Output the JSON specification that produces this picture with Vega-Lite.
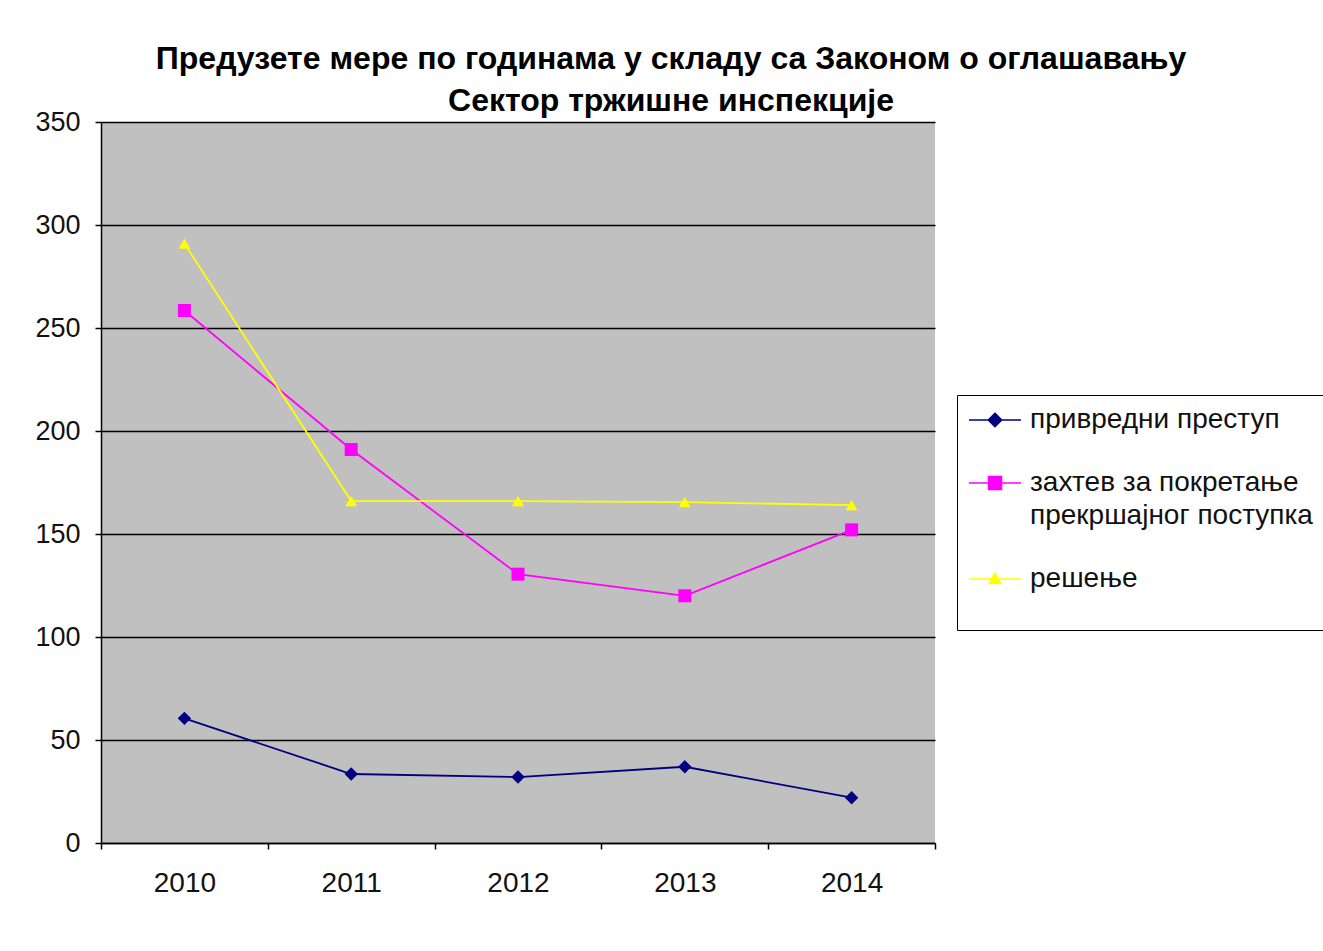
{
  "$schema": "https://vega.github.io/schema/vega-lite/v6.json",
  "width": 834,
  "height": 721,
  "autosize": {"type": "none"},
  "padding": {"left": 101, "top": 122, "right": 388, "bottom": 108},
  "background": "white",
  "title": {
    "text": ["Предузете мере по годинама у складу са Законом о оглашавању", "Сектор тржишне инспекције"],
    "font": "Liberation Sans",
    "fontSize": 32,
    "fontWeight": "bold",
    "color": "black",
    "anchor": "middle",
    "dx": 153,
    "lineHeight": 42,
    "offset": -10
  },
  "data": {
    "values": [
      {"year": 2010, "series": "привредни преступ", "value": 60.5},
      {"year": 2011, "series": "привредни преступ", "value": 33.5},
      {"year": 2012, "series": "привредни преступ", "value": 32},
      {"year": 2013, "series": "привредни преступ", "value": 37},
      {"year": 2014, "series": "привредни преступ", "value": 22},
      {"year": 2010, "series": "захтев за покретање прекршајног поступка", "value": 258.5},
      {"year": 2011, "series": "захтев за покретање прекршајног поступка", "value": 191},
      {"year": 2012, "series": "захтев за покретање прекршајног поступка", "value": 130.5},
      {"year": 2013, "series": "захтев за покретање прекршајног поступка", "value": 120},
      {"year": 2014, "series": "захтев за покретање прекршајног поступка", "value": 152},
      {"year": 2010, "series": "решење", "value": 291},
      {"year": 2011, "series": "решење", "value": 166},
      {"year": 2012, "series": "решење", "value": 166},
      {"year": 2013, "series": "решење", "value": 165.5},
      {"year": 2014, "series": "решење", "value": 164}
    ]
  },
  "encoding": {
    "x": {
      "field": "year",
      "type": "quantitative",
      "scale": {"domain": [2009.5, 2014.5], "nice": false, "zero": false},
      "axis": {
        "title": null,
        "grid": false,
        "values": [2009.5, 2010, 2010.5, 2011, 2011.5, 2012, 2012.5, 2013, 2013.5, 2014, 2014.5],
        "labelExpr": "datum.value % 1 === 0 ? '' + datum.value : ''",
        "tickColor": {"condition": {"test": "datum.value % 1 === 0", "value": "transparent"}, "value": "black"},
        "tickSize": 6,
        "tickWidth": 1.5,
        "domainColor": "black",
        "domainWidth": 1.5,
        "labelFont": "Liberation Sans",
        "labelFontSize": 28,
        "labelColor": "#111",
        "labelPadding": 20,
        "labelFlush": false,
        "labelOverlap": false
      }
    },
    "y": {
      "field": "value",
      "type": "quantitative",
      "scale": {"domain": [0, 350], "nice": false},
      "axis": {
        "title": null,
        "values": [0, 50, 100, 150, 200, 250, 300, 350],
        "grid": true,
        "gridColor": "black",
        "gridWidth": 1.5,
        "gridOpacity": 1,
        "tickColor": "black",
        "tickSize": 6,
        "tickWidth": 1.5,
        "domainColor": "black",
        "domainWidth": 1.5,
        "labelFont": "Liberation Sans",
        "labelFontSize": 27,
        "labelColor": "#111",
        "labelPadding": 15,
        "labelFlush": false,
        "labelOverlap": false
      }
    },
    "color": {
      "field": "series",
      "type": "nominal",
      "scale": {
        "domain": ["привредни преступ", "захтев за покретање прекршајног поступка", "решење"],
        "range": ["#000080", "#FF00FF", "#FFFF00"]
      },
      "legend": {
        "orient": "none",
        "legendX": 856,
        "legendY": 273,
        "title": " ",
        "titleOrient": "bottom",
        "titleFontSize": 26,
        "titlePadding": 0,
        "strokeColor": "black",
        "fillColor": "white",
        "padding": 11,
        "labelFont": "Liberation Sans",
        "labelFontSize": 28,
        "labelColor": "#111",
        "labelOffset": 34,
        "labelLimit": 400,
        "rowPadding": 35,
        "symbolSize": 676,
        "labelExpr": "datum.label === 'захтев за покретање прекршајног поступка' ? ['захтев за покретање', 'прекршајног поступка'] : datum.label",
        "encode": {
          "labels": {
            "update": {
              "lineHeight": {"value": 33}
            }
          },
          "symbols": {
            "update": {
              "shape": {"signal": "datum.value === 'привредни преступ' ? 'M-1,0H3M1,-0.52L1.52,0L1,0.52L0.48,0Z' : datum.value === 'решење' ? 'M-1,0H3M1,-0.45L1.45,0.35L0.55,0.35Z' : 'M-1,0H3M0.5,-0.5H1.5V0.5H0.5Z'"},
              "fill": {"scale": "color", "field": "value"},
              "stroke": {"scale": "color", "field": "value"},
              "strokeWidth": {"value": 1.5},
              "opacity": {"value": 1}
            }
          }
        }
      }
    }
  },
  "layer": [
    {
      "mark": {"type": "line", "strokeWidth": 1.8},
      "encoding": {"detail": {"field": "series"}}
    },
    {
      "transform": [{"filter": "datum.series === 'привредни преступ'"}],
      "mark": {"type": "point", "filled": true, "opacity": 1, "shape": "diamond", "size": 180}
    },
    {
      "transform": [{"filter": "datum.series === 'захтев за покретање прекршајног поступка'"}],
      "mark": {"type": "point", "filled": true, "opacity": 1, "shape": "square", "size": 169}
    },
    {
      "transform": [{"filter": "datum.series === 'решење'"}],
      "mark": {"type": "point", "filled": true, "opacity": 1, "shape": "triangle-up", "size": 140}
    }
  ],
  "config": {
    "view": {"stroke": null, "fill": "#C0C0C0"}
  }
}
